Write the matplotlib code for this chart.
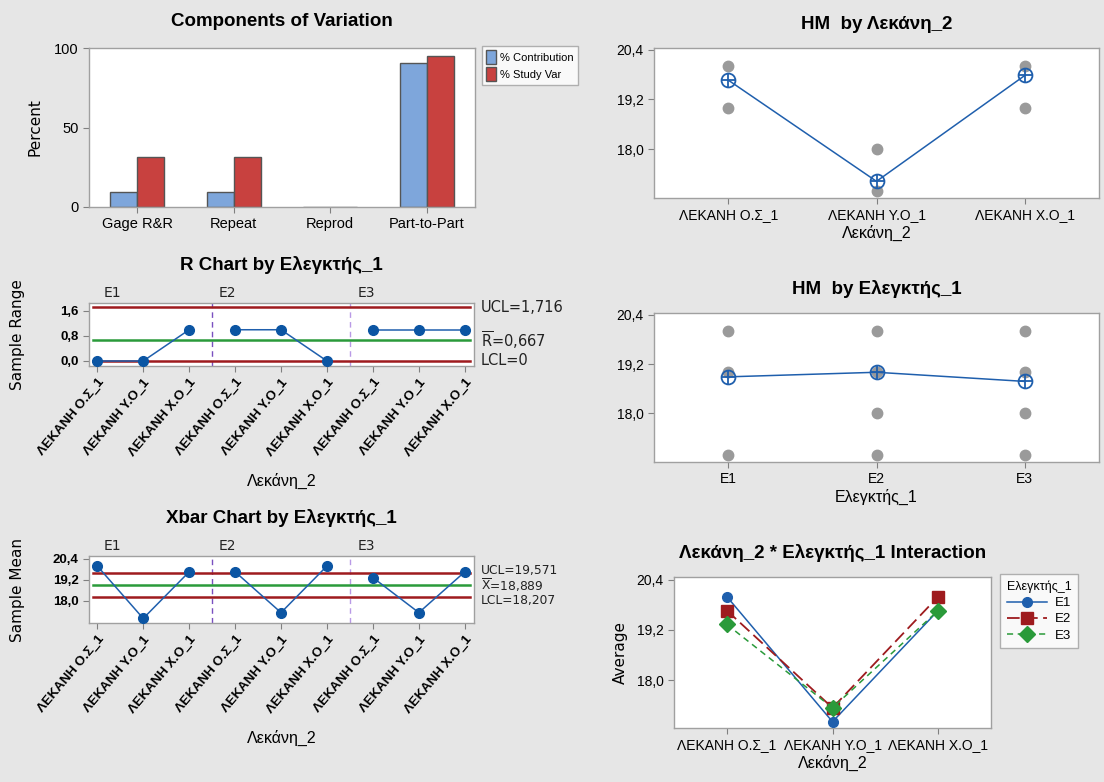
import numpy as np
import matplotlib
matplotlib.use("Agg")
import matplotlib.pyplot as plt
import matplotlib.transforms as mtransforms
from matplotlib import font_manager
from matplotlib.ticker import FuncFormatter

# ---------------- data ----------------
components = ["Gage R&R", "Repeat", "Reprod", "Part-to-Part"]
pct_contribution = [9.73, 9.73, 0.0, 90.27]
pct_study_var = [31.19, 31.19, 0.0, 95.01]

parts = ["ΛΕΚΑΝΗ Ο.Σ_1", "ΛΕΚΑΝΗ Υ.Ο_1", "ΛΕΚΑΝΗ Χ.Ο_1"]
operators = ["E1", "E2", "E3"]

# three replicate readings for each operator / part
meas_E1 = [[20, 20, 20], [17, 17, 17], [19, 20, 20]]
meas_E2 = [[19, 20, 20], [17, 17, 18], [20, 20, 20]]
meas_E3 = [[19, 19, 20], [17, 17, 18], [19, 20, 20]]

r_ucl, r_bar, r_lcl = 1.716, 0.667, 0.0
x_ucl, x_bar, x_lcl = 19.571, 18.889, 18.207

# ---------------- style ----------------
available = {f.name for f in font_manager.fontManager.ttflist}
narrow = "Liberation Sans Narrow" if "Liberation Sans Narrow" in available else "Liberation Sans"
plt.rcParams["font.family"] = [narrow, "Liberation Sans", "DejaVu Sans"]
plt.rcParams["mathtext.fontset"] = "dejavusans"
LIGHT = ["DejaVu Sans"]

BG = "#e6e6e6"
SPINE = "#a0a0a0"
BLUE = "#1f5fad"
PT_BLUE = "#0b55a3"
DRED = "#9e1b1e"
GREEN = "#2a9a3a"
GRAY_PT = "#9a9a9a"
BAR_BLUE = "#7ea6db"
BAR_RED = "#c8413f"

W, H = 1104, 782
fig = plt.figure(figsize=(W / 100, H / 100), dpi=100, facecolor=BG)


def add_ax(l, t, r, b):
    ax = fig.add_axes([l / W, 1 - b / H, (r - l) / W, (b - t) / H])
    ax.set_facecolor("white")
    for s in ax.spines.values():
        s.set_color(SPINE)
        s.set_linewidth(1.0)
    ax.tick_params(direction="out", length=4, color="#808080", labelsize=10)
    return ax


comma = FuncFormatter(lambda v, p: f"{v:.1f}".replace(".", ","))

# per-cell statistics
cells = np.array([meas_E1, meas_E2, meas_E3], dtype=float)  # operator, part, rep
cell_means = cells.mean(axis=2)
cell_ranges = cells.max(axis=2) - cells.min(axis=2)

# ---------------- Components of Variation ----------------
ax = add_ax(89, 48, 475, 207)
xc = np.arange(len(components))
bw = 0.28
ax.bar(xc - bw / 2, pct_contribution, bw, color=BAR_BLUE, edgecolor="#555555", linewidth=1.0,
       label="% Contribution")
ax.bar(xc + bw / 2, pct_study_var, bw, color=BAR_RED, edgecolor="#555555", linewidth=1.0,
       label="% Study Var")
ax.set_xlim(-0.5, 3.5)
ax.set_ylim(0, 100)
ax.set_yticks([0, 50, 100])
ax.set_xticks(xc)
ax.set_xticklabels(components, fontsize=10.5)
ax.tick_params(axis="y", labelsize=10.5)
ax.set_ylabel("Percent", family=LIGHT, fontsize=11, labelpad=8)
ax.set_title("Components of Variation", fontsize=13.5, fontweight="bold", pad=16)
leg = ax.legend(loc="upper left", bbox_to_anchor=((482 - 89) / (475 - 89), 1.01),
                frameon=True, fontsize=8, handlelength=0.9, handleheight=1.5,
                handletextpad=0.4, borderpad=0.35, labelspacing=0.3, fancybox=False,
                borderaxespad=0)
leg.get_frame().set_edgecolor(SPINE)
leg.get_frame().set_linewidth(1.0)

# ---------------- control charts ----------------
n_pts = len(operators) * len(parts)
xi = np.arange(n_pts)
xlabels = parts * len(operators)
op_label_x = [0.13, 2.65, 5.67]


def control_chart(t, b, values, ucl, center, lcl, ylim, yticks, ylabel, title, labels,
                  lab_size, nudge):
    ax = add_ax(89, t, 474, b)
    ax.set_xlim(-0.18, 8.2)
    ax.set_ylim(*ylim)
    for k in range(len(operators)):
        seg = slice(k * len(parts), (k + 1) * len(parts))
        ax.plot(xi[seg], np.asarray(values)[seg], color=BLUE, lw=1.1, marker="o", ms=7,
                mfc=PT_BLUE, mec=PT_BLUE, zorder=4, clip_on=False)
    ax.axhline(ucl, color=DRED, lw=1.8, xmin=0.01, xmax=0.99, zorder=2)
    ax.axhline(lcl, color=DRED, lw=1.8, xmin=0.01, xmax=0.99, zorder=2)
    ax.axhline(center, color=GREEN, lw=1.8, xmin=0.01, xmax=0.99, zorder=2)
    ax.axvline(2.5, color="#7a50c0", lw=1.0, ls=(0, (4, 3)), zorder=1)
    ax.axvline(5.5, color="#b99ae6", lw=1.0, ls=(0, (4, 3)), zorder=1)
    for k, op in enumerate(operators):
        ax.text(op_label_x[k], 1.05, op, transform=ax.get_xaxis_transform(),
                family=LIGHT, fontsize=10, color="#222222", ha="left", va="bottom")
    base = ax.get_yaxis_transform()
    for val, lab, dy in zip((ucl, center, lcl), labels, (nudge, 0, -nudge)):
        tr = base + mtransforms.ScaledTranslation(0, dy / 72, fig.dpi_scale_trans)
        ax.text(1.018, val, lab, transform=tr, family=LIGHT, fontsize=lab_size, color="#222222",
                ha="left", va="center")
    ax.set_yticks(yticks)
    ax.yaxis.set_major_formatter(comma)
    for tl in ax.get_yticklabels():
        tl.set_fontweight("bold")
        tl.set_fontsize(9.5)
    ax.set_xticks(xi)
    ax.set_xticklabels(xlabels, rotation=50, ha="right", rotation_mode="anchor",
                       fontsize=9.5, fontweight="bold")
    ax.set_xlabel("Λεκάνη_2", fontsize=11.5, labelpad=10)
    ax.set_ylabel(ylabel, family=LIGHT, fontsize=11, labelpad=6)
    ax.yaxis.set_label_coords(-0.165, 0.5)
    ax.set_title(title, fontsize=13.5, fontweight="bold", pad=24)
    return ax


control_chart(303, 366, cell_ranges.ravel(), r_ucl, r_bar, r_lcl, (-0.16, 1.856),
              [0.0, 0.8, 1.6], "Sample Range", "R Chart by Ελεγκτής_1",
              ["UCL=1,716", r"$\overline{\mathrm{R}}$=0,667", "LCL=0"], 10.5, 0)

control_chart(556, 623, cell_means.ravel(), x_ucl, x_bar, x_lcl, (16.74, 20.57),
              [18.0, 19.2, 20.4], "Sample Mean", "Xbar Chart by Ελεγκτής_1",
              ["UCL=19,571", r"$\overline{\mathrm{X}}$=18,889", "LCL=18,207"], 8.8, 2.5)

# ---------------- HM by Λεκάνη_2 ----------------
YLIM = (16.82, 20.44)


def mean_marker(ax, x, y):
    ax.plot(x, y, color=BLUE, lw=1.1, zorder=3)
    ax.plot(x, y, ls="none", marker="o", ms=10, mfc="none", mec=BLUE, mew=1.3, zorder=5)
    ax.plot(x, y, ls="none", marker="+", ms=10, mec=BLUE, mew=1.3, zorder=5)


ax = add_ax(654, 48, 1099, 198)
for j in range(len(parts)):
    vals = np.unique(cells[:, j, :])
    ax.plot(np.full(vals.shape, j), vals, ls="none", marker="o", ms=7.5, color=GRAY_PT, zorder=2)
mean_marker(ax, np.arange(len(parts)), cells.mean(axis=(0, 2)))
ax.set_xlim(-0.5, 2.5)
ax.set_ylim(*YLIM)
ax.set_yticks([18.0, 19.2, 20.4])
ax.yaxis.set_major_formatter(comma)
ax.set_xticks(range(len(parts)))
ax.set_xticklabels(parts, fontsize=10)
ax.set_xlabel("Λεκάνη_2", fontsize=11.5, labelpad=2)
ax.set_title("HM  by Λεκάνη_2", fontsize=13.5, fontweight="bold", pad=14)

# ---------------- HM by Ελεγκτής_1 ----------------
ax = add_ax(654, 313, 1099, 462)
for k in range(len(operators)):
    vals = np.unique(cells[k])
    ax.plot(np.full(vals.shape, k), vals, ls="none", marker="o", ms=7.5, color=GRAY_PT, zorder=2)
mean_marker(ax, np.arange(len(operators)), cells.mean(axis=(1, 2)))
ax.set_xlim(-0.5, 2.5)
ax.set_ylim(*YLIM)
ax.set_yticks([18.0, 19.2, 20.4])
ax.yaxis.set_major_formatter(comma)
ax.set_xticks(range(len(operators)))
ax.set_xticklabels(operators, fontsize=10)
ax.set_xlabel("Ελεγκτής_1", fontsize=11.5, labelpad=2)
ax.set_title("HM  by Ελεγκτής_1", fontsize=13.5, fontweight="bold", pad=14)

# ---------------- Interaction ----------------
ax = add_ax(674, 577, 991, 728)
styles = [
    dict(color=BLUE, ls="-", marker="o", ms=7, lw=1.1),
    dict(color=DRED, ls=(0, (7, 3)), marker="s", ms=8, lw=1.3),
    dict(color=GREEN, ls=(0, (4, 3)), marker="D", ms=8, lw=1.1),
]
for k, op in enumerate(operators):
    st = styles[k]
    ax.plot(np.arange(len(parts)), cell_means[k], color=st["color"], ls=st["ls"], lw=st["lw"],
            marker=st["marker"], ms=st["ms"], mfc=st["color"], mec=st["color"], label=op,
            zorder=3 + k)
ax.set_xlim(-0.5, 2.5)
ax.set_ylim(16.85, 20.47)
ax.set_yticks([18.0, 19.2, 20.4])
ax.yaxis.set_major_formatter(comma)
ax.set_xticks(range(len(parts)))
ax.set_xticklabels(parts, fontsize=10)
ax.set_xlabel("Λεκάνη_2", fontsize=11.5, labelpad=2)
ax.set_ylabel("Average", family=LIGHT, fontsize=11, labelpad=6)
ax.set_title("Λεκάνη_2 * Ελεγκτής_1 Interaction", fontsize=13.5, fontweight="bold", pad=14)
leg = ax.legend(title="Ελεγκτής_1", loc="upper left", bbox_to_anchor=((1000 - 674) / (991 - 674), 1.02),
                frameon=True, fancybox=False, fontsize=9.5, title_fontsize=9, handlelength=3.0,
                borderpad=0.5, labelspacing=0.3, borderaxespad=0, handletextpad=0.6)
leg._legend_box.align = "right"
leg.get_frame().set_edgecolor(SPINE)

fig.savefig("out.png", dpi=100, facecolor=BG)
